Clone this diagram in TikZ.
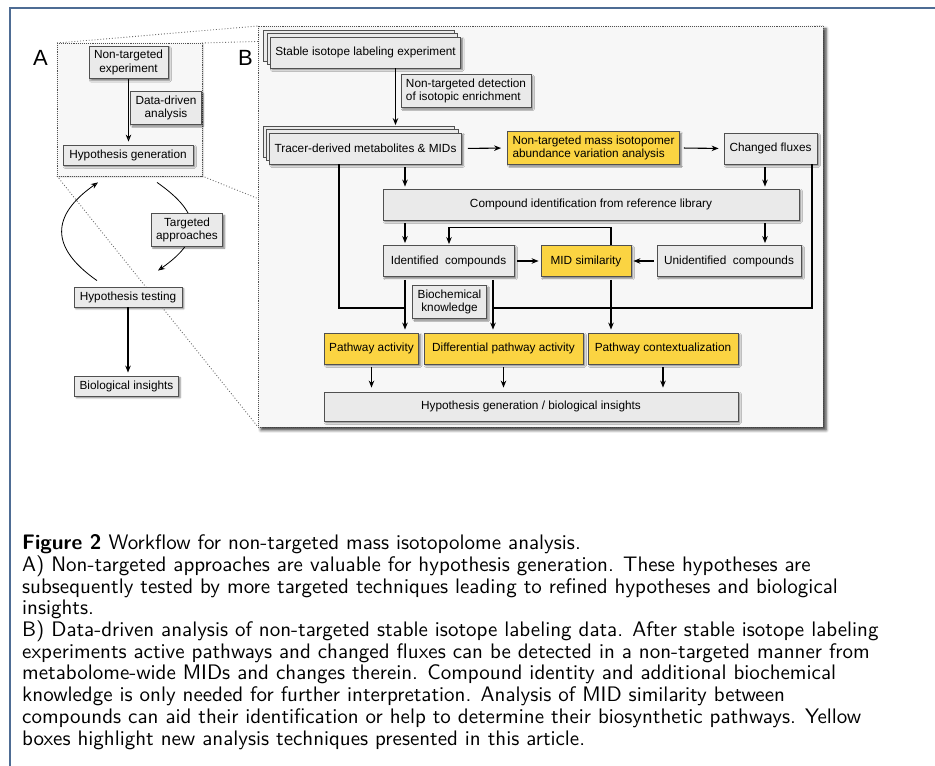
\documentclass[tikz,border=0pt]{standalone}
\usepackage{fontspec}
\newfontfamily\boxfont{Liberation Sans}
\newfontfamily\capfont[Extension=.otf, UprightFont=*-regular, BoldFont=*-bold]{lmsans10}
\usetikzlibrary{arrows.meta,shadows,shadows.blur}

\definecolor{framecol}{RGB}{78,108,148}
\definecolor{panelfill}{RGB}{247,247,247}
\definecolor{boxfill}{RGB}{234,234,234}
\definecolor{boxline}{RGB}{80,80,80}
\definecolor{hlyellow}{RGB}{251,212,66}

\tikzset{
  stepbox/.style={draw=boxline, fill=boxfill, line width=0.8pt, align=center,
    font=\boxfont\fontsize{11.8}{13.6}\selectfont, inner xsep=5pt, inner ysep=4pt,
    blur shadow={shadow xshift=1.8pt, shadow yshift=-1.8pt, shadow blur radius=1.6pt, shadow opacity=50}},
  newbox/.style={stepbox, fill=hlyellow},
  stackbox/.style={stepbox, double copy shadow={shadow xshift=-3.3pt, shadow yshift=3.3pt}},
  panel/.style={draw=boxline, densely dotted, line width=0.9pt, fill=panelfill},
  zoomline/.style={gray!85!black, dotted, line width=0.9pt},
  link/.style={line width=1.1pt},
  flow/.style={link, ->},
  thinflow/.style={->, line width=0.8pt},
}

\begin{document}
\begin{tikzpicture}[x=10pt, y=10pt, >={Stealth[length=7pt, width=5.5pt]}]
  \useasboundingbox (0,0) rectangle (93.5,76.6);
  \draw[framecol, line width=1.5pt] (93.5,75.8) -- (1.0,75.8) -- (1.0,0);

  % zoom lines from panel A to panel B
  \draw[zoomline] (5.7,72.3) -- (25.8,74.0);
  \draw[zoomline] (20.2,72.3) -- (82.3,74.0);
  \draw[zoomline] (5.7,59.0) -- (25.8,33.9);
  \draw[zoomline] (20.2,59.0) -- (82.3,33.9);

  % panels
  \draw[panel, blur shadow={shadow xshift=1pt, shadow yshift=-1pt, shadow blur radius=1.5pt, shadow opacity=25}]
    (5.7,72.3) rectangle (20.2,59.0);
  \draw[panel, blur shadow={shadow xshift=3pt, shadow yshift=-3pt, shadow blur radius=3pt, shadow opacity=80}]
    (25.8,74.0) rectangle (82.3,33.9);
  \node[font=\boxfont\fontsize{22}{22}\selectfont] (labA) at (4.05,70.8) {A};
  \node[font=\boxfont\fontsize{22}{22}\selectfont] (labB) at (24.55,70.8) {B};

  % A: hypothesis cycle
  \node[stepbox] (nte) at (12.85,70.35) {Non-targeted\\experiment};
  \node[stepbox] (dda) at (16.6,65.8) {Data-driven\\analysis};
  \node[stepbox, minimum width=130pt, minimum height=20pt] (hg) at (12.8,61.1) {Hypothesis generation};
  \node[stepbox, minimum width=108pt, minimum height=20pt] (ht) at (12.8,46.9) {Hypothesis testing};
  \node[stepbox, minimum width=103pt, minimum height=20pt] (bi) at (12.65,38.0) {Biological insights};
  \draw[thinflow] (nte.south) -- ([yshift=3pt]nte.south |- hg.north);
  \draw[thinflow] ([shift={(2.9,-1.7)}]hg.south) to[out=-35, in=35, looseness=1.6] ([shift={(3.0,1.6)}]ht.north);
  \draw[thinflow] ([shift={(-3.1,0.6)}]ht.north) to[out=145, in=-145, looseness=1.5] ([shift={(-3.0,-1.7)}]hg.south);
  \node[stepbox] (ta) at (18.7,53.6) {Targeted\\approaches};
  \draw[flow] (ht.south) -- ([yshift=3pt]ht.south |- bi.north);

  % B: data-driven workflow
  \node[stackbox, minimum width=187pt, minimum height=31pt] (sile) at (36.55,71.35) {Stable isotope labeling experiment};
  \node[stepbox, align=left] (ntd) at (46.6,67.5) {Non-targeted detection\\of isotopic enrichment};
  \node[stackbox, minimum width=187pt, minimum height=31pt] (tdm) at (36.55,61.75) {Tracer-derived metabolites \& MIDs};
  \node[newbox, align=left] (nmav) at (59.35,61.8) {Non-targeted mass isotopomer\\abundance variation analysis};
  \node[stepbox, minimum width=93pt, minimum height=31pt] (cf) at (77.05,61.75) {Changed fluxes};
  \node[stepbox, minimum width=416pt, minimum height=31pt] (cir) at (59.1,56.15) {Compound identification from reference library};
  \node[stepbox, minimum width=131pt, minimum height=31pt] (ic) at (44.85,50.5) {Identified\ \ compounds};
  \node[newbox, minimum width=90pt, minimum height=31pt] (mid) at (58.6,50.5) {MID similarity};
  \node[stepbox, minimum width=144pt, minimum height=31pt] (uc) at (72.9,50.5) {Unidentified\ \ compounds};
  \node[newbox, minimum width=93pt, minimum height=31pt] (pa) at (37.15,41.75) {Pathway activity};
  \node[newbox, minimum width=159pt, minimum height=31pt] (dpa) at (50.35,41.75) {Differential pathway activity};
  \node[newbox, minimum width=150pt, minimum height=31pt] (pc) at (66.3,41.75) {Pathway contextualization};
  \node[stepbox, minimum width=414pt, minimum height=29pt] (hgbi) at (53.1,35.95) {Hypothesis generation / biological insights};

  % columns the vertical connectors run along
  \coordinate (colA) at (40.5,0);
  \coordinate (colB) at (76.5,0);
  \coordinate (colC) at (49.3,0);
  \coordinate (colD) at (61.1,0);
  \coordinate (loopL) at (33.9,45.8);
  \coordinate (loopR) at (81.2,45.8);

  \draw[flow] ([xshift=30pt]sile.south) -- ([xshift=30pt, yshift=7.5pt]tdm.north);
  \draw[flow, shorten <=6pt, shorten >=6pt] (tdm.east) -- (nmav.west);
  \draw[flow, shorten <=4pt, shorten >=5pt] (nmav.east) -- (cf.west);
  \draw[flow, shorten <=3pt, shorten >=2pt] (tdm.south -| colA) -- (cir.north -| colA);
  \draw[flow, shorten <=3pt, shorten >=2pt] (cf.south -| colB) -- (cir.north -| colB);
  \draw[flow, shorten <=3pt, shorten >=2pt] (cir.south -| colA) -- (ic.north -| colA);
  \draw[flow, shorten <=3pt, shorten >=2pt] (cir.south -| colB) -- (uc.north -| colB);
  \draw[flow, shorten <=3pt, shorten >=2pt] (ic.east) -- (mid.west);
  \draw[flow, shorten <=3pt, shorten >=2pt] (uc.west) -- (mid.east);
  \draw[flow, shorten >=1pt] (mid.north -| colD) |- (44.9,53.85) -- (ic.north -| 44.9,0);
  \draw[link] (tdm.south -| loopL) |- (loopL -| colA);
  \draw[link] (cf.south -| loopR) |- (loopR -| colC);
  \draw[flow, shorten <=3pt, shorten >=3pt] (ic.south -| colA) -- (pa.north -| colA);
  \draw[flow, shorten <=3pt, shorten >=3pt] (ic.south -| colC) -- (dpa.north -| colC);
  \draw[flow, shorten <=3pt, shorten >=3pt] (mid.south -| colD) -- (pc.north -| colD);
  \node[stepbox] (bk) at (44.95,46.4) {Biochemical\\knowledge};
  \foreach \src in {pa,dpa,pc}
    \draw[flow, shorten <=3pt, shorten >=4pt] (\src.south) -- (\src.south |- hgbi.north);

  % caption
  \node[anchor=north west, inner sep=0pt, align=left, font=\capfont\fontsize{21}{21.7}\selectfont] (caption) at (2.2,23.15) {%
    \textbf{Figure 2} Workflow for non-targeted mass isotopolome analysis.\\
    A) Non-targeted approaches are valuable for hypothesis generation. These hypotheses are\\
    subsequently tested by more targeted techniques leading to refined hypotheses and biological\\
    insights.\\
    B) Data-driven analysis of non-targeted stable isotope labeling data. After stable isotope labeling\\
    experiments active pathways and changed fluxes can be detected in a non-targeted manner from\\
    metabolome-wide MIDs and changes therein. Compound identity and additional biochemical\\
    knowledge is only needed for further interpretation. Analysis of MID similarity between\\
    compounds can aid their identification or help to determine their biosynthetic pathways. Yellow\\
    boxes highlight new analysis techniques presented in this article.};
\end{tikzpicture}
\end{document}
